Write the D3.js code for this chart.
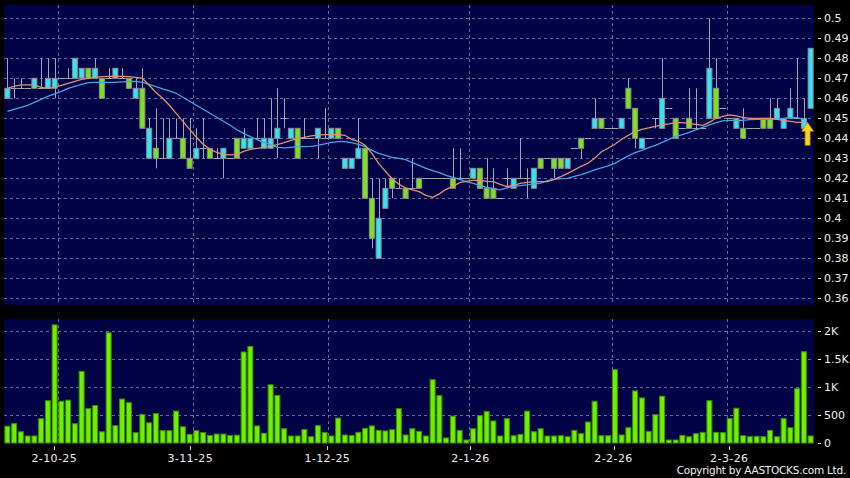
<!DOCTYPE html>
<html>
<head>
<meta charset="utf-8">
<script src="https://cdn.jsdelivr.net/npm/d3@7"></script>
<style>
  body { margin: 0; background: #000; }
  svg { display: block; font-family: "DejaVu Sans", sans-serif; }
</style>
</head>
<body>
<svg id="chart" width="850" height="478"></svg>
<script>
// daily candles, oldest first
const opens = [0.46,0.465,0.465,0.465,0.465,0.465,0.465,0.465,0.47,0.47,
  0.47,0.47,0.475,0.47,0.47,0.47,0.47,0.47,0.47,0.46,
  0.465,0.43,0.435,0.43,0.43,0.44,0.44,0.43,0.43,0.435,
  0.435,0.43,0.43,0.43,0.44,0.435,0.435,0.44,0.435,0.435,
  0.44,0.45,0.44,0.445,0.44,0.44,0.44,0.44,0.44,0.445,
  0.425,0.425,0.43,0.435,0.41,0.38,0.405,0.42,0.415,0.415,
  0.415,0.42,0.42,0.42,0.42,0.42,0.42,0.42,0.42,0.42,
  0.425,0.415,0.415,0.41,0.42,0.415,0.42,0.42,0.415,0.43,
  0.43,0.43,0.43,0.425,0.435,0.44,0.44,0.445,0.45,0.445,
  0.445,0.445,0.465,0.455,0.435,0.44,0.45,0.445,0.455,0.45,
  0.445,0.45,0.445,0.445,0.45,0.465,0.455,0.45,0.445,0.445,
  0.445,0.445,0.45,0.45,0.45,0.445,0.45,0.45,0.445,0.455];
const highs = [0.48,0.47,0.47,0.465,0.47,0.48,0.48,0.48,0.47,0.475,
  0.48,0.475,0.475,0.48,0.47,0.475,0.475,0.475,0.47,0.47,
  0.475,0.45,0.455,0.45,0.45,0.45,0.45,0.45,0.445,0.45,
  0.435,0.435,0.435,0.43,0.44,0.445,0.44,0.45,0.45,0.46,
  0.465,0.46,0.445,0.445,0.45,0.44,0.445,0.455,0.445,0.445,
  0.43,0.43,0.45,0.435,0.42,0.42,0.42,0.42,0.42,0.415,
  0.43,0.42,0.42,0.42,0.42,0.42,0.435,0.435,0.42,0.425,
  0.425,0.43,0.425,0.41,0.425,0.42,0.44,0.425,0.425,0.43,
  0.43,0.43,0.43,0.43,0.435,0.44,0.44,0.46,0.45,0.445,
  0.445,0.45,0.47,0.455,0.44,0.44,0.45,0.48,0.455,0.45,
  0.445,0.465,0.465,0.445,0.5,0.48,0.455,0.45,0.45,0.455,
  0.445,0.445,0.45,0.46,0.46,0.45,0.465,0.48,0.46,0.485];
const lows = [0.46,0.46,0.465,0.465,0.465,0.465,0.465,0.46,0.47,0.47,
  0.47,0.47,0.47,0.47,0.46,0.47,0.47,0.47,0.465,0.46,
  0.445,0.43,0.425,0.43,0.43,0.44,0.43,0.425,0.43,0.43,
  0.43,0.43,0.42,0.43,0.43,0.435,0.435,0.44,0.435,0.435,
  0.43,0.445,0.44,0.43,0.44,0.44,0.43,0.44,0.44,0.44,
  0.425,0.425,0.43,0.41,0.385,0.38,0.405,0.41,0.415,0.41,
  0.415,0.415,0.42,0.42,0.42,0.42,0.415,0.42,0.42,0.42,
  0.415,0.41,0.41,0.41,0.415,0.415,0.42,0.41,0.415,0.425,
  0.43,0.42,0.425,0.425,0.435,0.43,0.44,0.445,0.445,0.445,
  0.445,0.445,0.455,0.435,0.435,0.44,0.445,0.445,0.455,0.44,
  0.445,0.445,0.445,0.445,0.45,0.45,0.455,0.45,0.445,0.44,
  0.445,0.445,0.445,0.445,0.45,0.445,0.45,0.45,0.445,0.455];
const closes = [0.465,0.465,0.465,0.465,0.47,0.465,0.47,0.47,0.47,0.47,
  0.48,0.475,0.47,0.475,0.46,0.47,0.475,0.47,0.465,0.465,
  0.445,0.445,0.43,0.43,0.44,0.44,0.43,0.425,0.435,0.435,
  0.43,0.43,0.435,0.43,0.43,0.44,0.44,0.44,0.44,0.44,
  0.445,0.45,0.445,0.43,0.44,0.44,0.445,0.44,0.445,0.44,
  0.43,0.43,0.435,0.41,0.39,0.40,0.415,0.415,0.415,0.41,
  0.415,0.415,0.42,0.42,0.42,0.42,0.415,0.42,0.42,0.425,
  0.415,0.41,0.41,0.41,0.42,0.42,0.42,0.42,0.425,0.425,
  0.43,0.425,0.425,0.43,0.435,0.435,0.44,0.45,0.445,0.445,
  0.445,0.45,0.455,0.44,0.44,0.44,0.45,0.46,0.455,0.44,
  0.445,0.445,0.445,0.445,0.475,0.45,0.455,0.45,0.45,0.44,
  0.445,0.445,0.445,0.445,0.455,0.45,0.455,0.45,0.45,0.485];
const volumes = [300,345,200,125,125,435,755,2110,745,765,
  345,1280,615,670,200,1970,310,785,720,185,
  510,360,525,220,220,570,290,155,220,185,
  135,160,160,135,140,1625,1725,305,175,1040,
  850,255,125,125,240,113,310,190,125,445,
  143,135,190,262,305,226,215,238,613,143,
  255,208,125,1130,845,90,480,226,53,255,
  488,565,393,125,435,130,155,570,202,255,
  125,125,130,113,226,167,375,745,130,130,
  1310,143,273,930,805,208,505,835,54,54,
  137,113,167,190,755,190,185,435,620,130,
  113,120,113,226,113,435,273,970,1630,125];
// moving averages (last session has none)
const ma10 = [0.465,0.466,0.4667,0.4667,0.4667,0.4655,0.465,0.4655,0.4665,0.4675,
  0.4685,0.4695,0.47,0.4705,0.4708,0.471,0.471,0.471,0.4708,0.4705,
  0.47,0.4665,0.463,0.46,0.4565,0.4525,0.4485,0.4445,0.4405,0.437,
  0.4345,0.433,0.432,0.4317,0.4318,0.4335,0.4345,0.435,0.4355,0.4362,
  0.4368,0.4378,0.439,0.4398,0.4405,0.4412,0.4416,0.4418,0.4418,0.4418,
  0.4415,0.4395,0.4385,0.4365,0.4325,0.4275,0.4235,0.4198,0.417,0.4152,
  0.4142,0.4133,0.4115,0.4105,0.4122,0.4145,0.416,0.4178,0.4185,0.419,
  0.419,0.4185,0.4183,0.417,0.4158,0.4165,0.4175,0.418,0.4183,0.4183,
  0.4183,0.4195,0.4208,0.4225,0.4242,0.426,0.4275,0.43,0.4333,0.435,
  0.437,0.4395,0.4415,0.4433,0.4445,0.4452,0.446,0.4467,0.4472,0.4478,
  0.4478,0.4475,0.447,0.4465,0.448,0.45,0.451,0.4517,0.4512,0.4505,
  0.45,0.45,0.45,0.45,0.4495,0.449,0.4485,0.448,0.448,null];
const ma20 = [0.4535,0.4545,0.4555,0.4565,0.458,0.4595,0.461,0.4622,0.4635,0.465,
  0.466,0.467,0.4678,0.468,0.468,0.468,0.468,0.4682,0.4684,0.4685,
  0.468,0.467,0.4658,0.4647,0.4637,0.4625,0.4605,0.4585,0.4565,0.4545,
  0.4525,0.4505,0.4485,0.4465,0.4443,0.4425,0.4408,0.4393,0.438,0.4368,
  0.4355,0.4352,0.4355,0.4358,0.4358,0.436,0.4365,0.4372,0.438,0.4383,
  0.4383,0.4378,0.437,0.4358,0.434,0.4325,0.4315,0.4305,0.43,0.4293,
  0.4278,0.4265,0.425,0.4238,0.4228,0.4215,0.4205,0.4195,0.4183,0.4175,
  0.4165,0.4155,0.4148,0.4142,0.4152,0.416,0.4163,0.4167,0.4172,0.4176,
  0.4188,0.4195,0.4198,0.42,0.421,0.4218,0.423,0.4242,0.4252,0.4262,
  0.4275,0.4295,0.4312,0.4328,0.434,0.4353,0.4365,0.438,0.4395,0.441,
  0.4418,0.443,0.4442,0.4455,0.4467,0.4478,0.4487,0.449,0.449,0.449,
  0.4493,0.4495,0.4495,0.4495,0.4498,0.45,0.4503,0.4503,0.4495,null];

const priceTicks = [0.36,0.37,0.38,0.39,0.4,0.41,0.42,0.43,0.44,0.45,0.46,0.47,0.48,0.49,0.5];
const volTicks = [0, 500, 1000, 1500, 2000];
const volTickLabels = ['0', '500', '1K', '1.5K', '2K'];
const dateLabels = ['2-10-25', '3-11-25', '1-12-25', '2-1-26', '2-2-26', '2-3-26'];
const dateTickAt = [6.95, 27.1, 47.4, 68.6, 89.8, 106.95];   // in session units
const monthGridAt = [7.55, 27.55, 47.55, 68.45, 89.55, 106.55];

const svg = d3.select('#chart');
const W = 850, H = 478;
const left = 4, right = 814;
const mainTop = 5, mainBottom = 305;
const volTop = 319, volBottom = 444;

const n = closes.length;
const x = d3.scaleLinear().domain([-0.5, n - 0.5]).range([left, right]);
const step = (right - left) / n;
const bodyW = step - 1.75;

const y = d3.scaleLinear().domain([0.36, 0.5]).range([298.3, 18.3]);
const yv = d3.scaleLinear().domain([0, 2000]).range([443, 331]);

svg.append('rect').attr('width', W).attr('height', H).attr('fill', '#000');

// panels
svg.append('rect').attr('x', left).attr('y', mainTop)
  .attr('width', right - left).attr('height', mainBottom - mainTop).attr('fill', '#020247');
svg.append('rect').attr('x', left).attr('y', volTop)
  .attr('width', right - left).attr('height', volBottom - volTop).attr('fill', '#020247');

const gridColor = '#6a6a9a';

// horizontal grid, price
svg.append('g').selectAll('line').data(priceTicks).enter().append('line')
  .attr('x1', left).attr('x2', right)
  .attr('y1', d => Math.round(y(d)) + 0.5).attr('y2', d => Math.round(y(d)) + 0.5)
  .attr('stroke', gridColor).attr('stroke-dasharray', '3,3');

// horizontal grid, volume
svg.append('g').selectAll('line').data(volTicks.slice(1)).enter().append('line')
  .attr('x1', left).attr('x2', right)
  .attr('y1', d => Math.round(yv(d)) + 0.5).attr('y2', d => Math.round(yv(d)) + 0.5)
  .attr('stroke', gridColor).attr('stroke-dasharray', '3,3');

// vertical month grid in both panels
[[mainTop, mainBottom], [volTop, volBottom]].forEach(([t, b]) => {
  svg.append('g').selectAll('line').data(monthGridAt).enter().append('line')
    .attr('x1', d => Math.round(x(d)) + 0.5).attr('x2', d => Math.round(x(d)) + 0.5)
    .attr('y1', t).attr('y2', b)
    .attr('stroke', gridColor).attr('stroke-dasharray', '3,3');
});

const idx = d3.range(n);

// wicks
svg.append('g').selectAll('line').data(idx.filter(i => highs[i] > lows[i])).enter().append('line')
  .attr('x1', i => Math.round(x(i)) + 0.5).attr('x2', i => Math.round(x(i)) + 0.5)
  .attr('y1', i => y(highs[i])).attr('y2', i => y(lows[i]))
  .attr('stroke', '#a4a4b4').attr('stroke-width', 1);

// doji sessions
svg.append('g').selectAll('line').data(idx.filter(i => opens[i] === closes[i])).enter().append('line')
  .attr('x1', i => x(i) - step / 2).attr('x2', i => x(i) + step / 2)
  .attr('y1', i => Math.round(y(closes[i])) + 0.5).attr('y2', i => Math.round(y(closes[i])) + 0.5)
  .attr('stroke', '#a4a4b4');

// bodies
svg.append('g').selectAll('rect').data(idx.filter(i => opens[i] !== closes[i])).enter().append('rect')
  .attr('x', i => x(i) - bodyW / 2)
  .attr('y', i => y(Math.max(opens[i], closes[i])))
  .attr('width', bodyW)
  .attr('height', i => Math.abs(y(opens[i]) - y(closes[i])))
  .attr('fill', i => closes[i] > opens[i] ? '#33e4f4' : '#7be31c')
  .attr('stroke', '#8c8c8c').attr('stroke-width', 1);

// moving averages
const line = d3.line()
  .defined(d => d != null)
  .x((d, i) => x(i))
  .y(d => y(d));
svg.append('path').datum(ma20).attr('d', line)
  .attr('fill', 'none').attr('stroke', '#3fa9e6').attr('stroke-width', 1.3);
svg.append('path').datum(ma10).attr('d', line)
  .attr('fill', 'none').attr('stroke', '#e39270').attr('stroke-width', 1.3);

// latest-price arrow
const ax = x(n - 1.45), ay = y(0.448);
svg.append('path')
  .attr('d', `M${ax},${ay} l6,9 h-3.5 v14 h-5 v-14 h-3.5 z`)
  .attr('fill', '#ffd21f').attr('stroke', '#b08a00').attr('stroke-width', 0.8);

// volume bars
svg.append('g').selectAll('rect').data(idx).enter().append('rect')
  .attr('x', i => x(i) - bodyW / 2)
  .attr('y', i => yv(volumes[i]))
  .attr('width', bodyW)
  .attr('height', i => yv(0) - yv(volumes[i]))
  .attr('fill', '#6ef000').attr('stroke', '#3e8e00').attr('stroke-width', 1);

// right axis labels
const labelColor = '#f0f0f0';
const priceAxis = svg.append('g');
priceAxis.selectAll('line').data(priceTicks).enter().append('line')
  .attr('x1', 818).attr('x2', 821)
  .attr('y1', d => Math.round(y(d)) + 0.5).attr('y2', d => Math.round(y(d)) + 0.5)
  .attr('stroke', labelColor);
priceAxis.selectAll('text').data(priceTicks).enter().append('text')
  .attr('x', 824).attr('y', d => y(d) + 4)
  .attr('fill', labelColor).attr('font-size', 11)
  .text(d => d3.format('')(+d.toFixed(2)));

const volAxis = svg.append('g');
volAxis.selectAll('line').data(volTicks).enter().append('line')
  .attr('x1', 818).attr('x2', 821)
  .attr('y1', d => Math.round(yv(d)) + 0.5).attr('y2', d => Math.round(yv(d)) + 0.5)
  .attr('stroke', labelColor);
volAxis.selectAll('text').data(volTicks).enter().append('text')
  .attr('x', 824).attr('y', d => yv(d) + 4)
  .attr('fill', labelColor).attr('font-size', 11)
  .text((d, i) => volTickLabels[i]);

// date axis
const dateAxis = svg.append('g');
dateAxis.selectAll('line').data(dateTickAt).enter().append('line')
  .attr('x1', d => Math.round(x(d)) + 0.5).attr('x2', d => Math.round(x(d)) + 0.5)
  .attr('y1', 446).attr('y2', 450)
  .attr('stroke', '#cfcfcf');
dateAxis.selectAll('text').data(dateTickAt).enter().append('text')
  .attr('x', d => x(d)).attr('y', 462)
  .attr('text-anchor', 'middle')
  .attr('fill', labelColor).attr('font-size', 11).attr('letter-spacing', 0.4)
  .text((d, i) => dateLabels[i]);

svg.append('text')
  .attr('x', 846).attr('y', 473.5)
  .attr('text-anchor', 'end')
  .attr('fill', labelColor).attr('font-size', 10.5)
  .attr('letter-spacing', -0.25)
  .text('Copyright by AASTOCKS.com Ltd.');
</script>
</body>
</html>
